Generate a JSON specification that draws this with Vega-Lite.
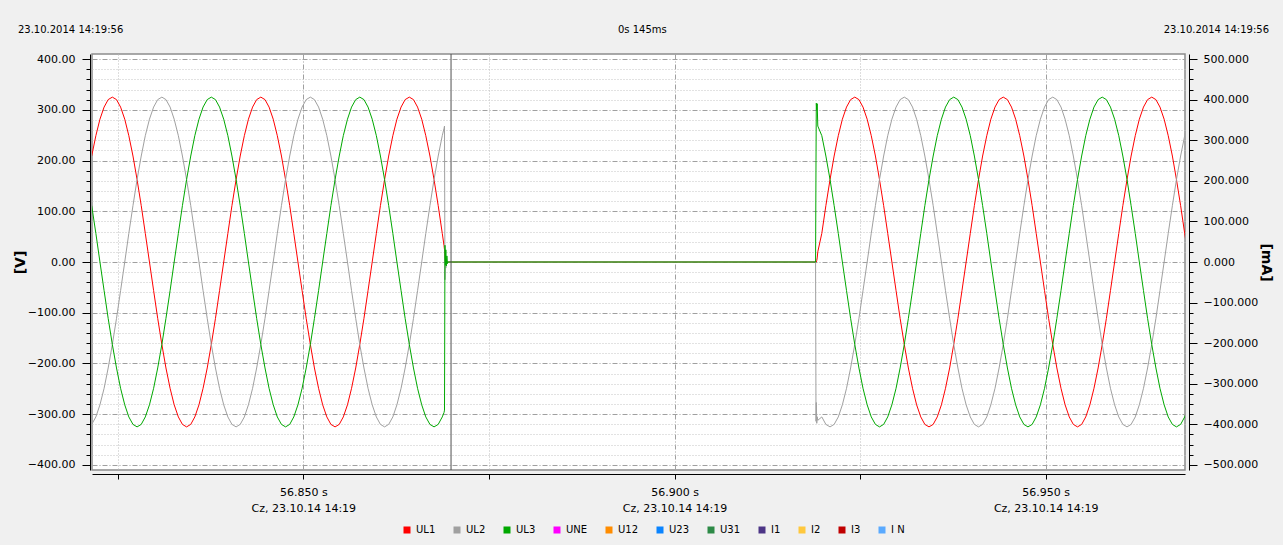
{
"$schema": "https://vega.github.io/schema/vega-lite/v6.json",
"width": 1093,
"height": 416,
"autosize": {"type": "none"},
"padding": {"left": 92, "top": 54, "right": 98, "bottom": 75},
"background": "#f0f0f0",
"config": {
  "font": "DejaVu Sans",
  "view": {"fill": "#ffffff", "stroke": "#8c8c8c", "strokeWidth": 1.5},
  "axis": {"labelFont": "DejaVu Sans", "titleFont": "DejaVu Sans", "labelColor": "#000000", "titleColor": "#000000", "domainColor": "#000000", "tickColor": "#000000", "labelOverlap": false, "labelFlush": false, "labelBound": false}
},
"datasets": {
"wave": [
{"t":56.82150,"UL1":208.9,"UL2":-320.1,"UL3":111.2},
{"t":56.82206,"UL1":249,"UL2":-305.4,"UL3":56.4},
{"t":56.82261,"UL1":281.5,"UL2":-281.5,"UL3":0},
{"t":56.82317,"UL1":305.4,"UL2":-249,"UL3":-56.4},
{"t":56.82372,"UL1":320.1,"UL2":-208.9,"UL3":-111.2},
{"t":56.82428,"UL1":325,"UL2":-162.5,"UL3":-162.5},
{"t":56.82484,"UL1":320.1,"UL2":-111.2,"UL3":-208.9},
{"t":56.82539,"UL1":305.4,"UL2":-56.4,"UL3":-249},
{"t":56.82595,"UL1":281.5,"UL2":0,"UL3":-281.5},
{"t":56.82650,"UL1":249,"UL2":56.4,"UL3":-305.4},
{"t":56.82706,"UL1":208.9,"UL2":111.2,"UL3":-320.1},
{"t":56.82761,"UL1":162.5,"UL2":162.5,"UL3":-325},
{"t":56.82817,"UL1":111.2,"UL2":208.9,"UL3":-320.1},
{"t":56.82872,"UL1":56.4,"UL2":249,"UL3":-305.4},
{"t":56.82928,"UL1":0,"UL2":281.5,"UL3":-281.5},
{"t":56.82984,"UL1":-56.4,"UL2":305.4,"UL3":-249},
{"t":56.83039,"UL1":-111.2,"UL2":320.1,"UL3":-208.9},
{"t":56.83095,"UL1":-162.5,"UL2":325,"UL3":-162.5},
{"t":56.83150,"UL1":-208.9,"UL2":320.1,"UL3":-111.2},
{"t":56.83206,"UL1":-249,"UL2":305.4,"UL3":-56.4},
{"t":56.83261,"UL1":-281.5,"UL2":281.5,"UL3":0},
{"t":56.83317,"UL1":-305.4,"UL2":249,"UL3":56.4},
{"t":56.83372,"UL1":-320.1,"UL2":208.9,"UL3":111.2},
{"t":56.83428,"UL1":-325,"UL2":162.5,"UL3":162.5},
{"t":56.83484,"UL1":-320.1,"UL2":111.2,"UL3":208.9},
{"t":56.83539,"UL1":-305.4,"UL2":56.4,"UL3":249},
{"t":56.83595,"UL1":-281.5,"UL2":0,"UL3":281.5},
{"t":56.83650,"UL1":-249,"UL2":-56.4,"UL3":305.4},
{"t":56.83706,"UL1":-208.9,"UL2":-111.2,"UL3":320.1},
{"t":56.83761,"UL1":-162.5,"UL2":-162.5,"UL3":325},
{"t":56.83817,"UL1":-111.2,"UL2":-208.9,"UL3":320.1},
{"t":56.83872,"UL1":-56.4,"UL2":-249,"UL3":305.4},
{"t":56.83928,"UL1":0,"UL2":-281.5,"UL3":281.5},
{"t":56.83984,"UL1":56.4,"UL2":-305.4,"UL3":249},
{"t":56.84039,"UL1":111.2,"UL2":-320.1,"UL3":208.9},
{"t":56.84095,"UL1":162.5,"UL2":-325,"UL3":162.5},
{"t":56.84150,"UL1":208.9,"UL2":-320.1,"UL3":111.2},
{"t":56.84206,"UL1":249,"UL2":-305.4,"UL3":56.4},
{"t":56.84261,"UL1":281.5,"UL2":-281.5,"UL3":0},
{"t":56.84317,"UL1":305.4,"UL2":-249,"UL3":-56.4},
{"t":56.84372,"UL1":320.1,"UL2":-208.9,"UL3":-111.2},
{"t":56.84428,"UL1":325,"UL2":-162.5,"UL3":-162.5},
{"t":56.84484,"UL1":320.1,"UL2":-111.2,"UL3":-208.9},
{"t":56.84539,"UL1":305.4,"UL2":-56.4,"UL3":-249},
{"t":56.84595,"UL1":281.5,"UL2":0,"UL3":-281.5},
{"t":56.84650,"UL1":249,"UL2":56.4,"UL3":-305.4},
{"t":56.84706,"UL1":208.9,"UL2":111.2,"UL3":-320.1},
{"t":56.84761,"UL1":162.5,"UL2":162.5,"UL3":-325},
{"t":56.84817,"UL1":111.2,"UL2":208.9,"UL3":-320.1},
{"t":56.84872,"UL1":56.4,"UL2":249,"UL3":-305.4},
{"t":56.84928,"UL1":0,"UL2":281.5,"UL3":-281.5},
{"t":56.84984,"UL1":-56.4,"UL2":305.4,"UL3":-249},
{"t":56.85039,"UL1":-111.2,"UL2":320.1,"UL3":-208.9},
{"t":56.85095,"UL1":-162.5,"UL2":325,"UL3":-162.5},
{"t":56.85150,"UL1":-208.9,"UL2":320.1,"UL3":-111.2},
{"t":56.85206,"UL1":-249,"UL2":305.4,"UL3":-56.4},
{"t":56.85261,"UL1":-281.5,"UL2":281.5,"UL3":0},
{"t":56.85317,"UL1":-305.4,"UL2":249,"UL3":56.4},
{"t":56.85372,"UL1":-320.1,"UL2":208.9,"UL3":111.2},
{"t":56.85428,"UL1":-325,"UL2":162.5,"UL3":162.5},
{"t":56.85484,"UL1":-320.1,"UL2":111.2,"UL3":208.9},
{"t":56.85539,"UL1":-305.4,"UL2":56.4,"UL3":249},
{"t":56.85595,"UL1":-281.5,"UL2":0,"UL3":281.5},
{"t":56.85650,"UL1":-249,"UL2":-56.4,"UL3":305.4},
{"t":56.85706,"UL1":-208.9,"UL2":-111.2,"UL3":320.1},
{"t":56.85761,"UL1":-162.5,"UL2":-162.5,"UL3":325},
{"t":56.85817,"UL1":-111.2,"UL2":-208.9,"UL3":320.1},
{"t":56.85872,"UL1":-56.4,"UL2":-249,"UL3":305.4},
{"t":56.85928,"UL1":0,"UL2":-281.5,"UL3":281.5},
{"t":56.85984,"UL1":56.4,"UL2":-305.4,"UL3":249},
{"t":56.86039,"UL1":111.2,"UL2":-320.1,"UL3":208.9},
{"t":56.86095,"UL1":162.5,"UL2":-325,"UL3":162.5},
{"t":56.86150,"UL1":208.9,"UL2":-320.1,"UL3":111.2},
{"t":56.86206,"UL1":249,"UL2":-305.4,"UL3":56.4},
{"t":56.86261,"UL1":281.5,"UL2":-281.5,"UL3":0},
{"t":56.86317,"UL1":305.4,"UL2":-249,"UL3":-56.4},
{"t":56.86372,"UL1":320.1,"UL2":-208.9,"UL3":-111.2},
{"t":56.86428,"UL1":325,"UL2":-162.5,"UL3":-162.5},
{"t":56.86484,"UL1":320.1,"UL2":-111.2,"UL3":-208.9},
{"t":56.86539,"UL1":305.4,"UL2":-56.4,"UL3":-249},
{"t":56.86595,"UL1":281.5,"UL2":0,"UL3":-281.5},
{"t":56.86650,"UL1":249,"UL2":56.4,"UL3":-305.4},
{"t":56.86706,"UL1":208.9,"UL2":111.2,"UL3":-320.1},
{"t":56.86761,"UL1":162.5,"UL2":162.5,"UL3":-325},
{"t":56.86817,"UL1":111.2,"UL2":208.9,"UL3":-320.1},
{"t":56.86872,"UL1":56.4,"UL2":249,"UL3":-305.4},
{"t":56.86895,"UL1":33,"UL2":263,"UL3":-297},
{"t":56.86902,"UL1":24,"UL2":268,"UL3":-292},
{"t":56.86908,"UL1":10,"UL2":-35,"UL3":33},
{"t":56.86914,"UL1":0,"UL2":10,"UL3":-6},
{"t":56.86920,"UL1":0,"UL2":-12,"UL3":24},
{"t":56.86926,"UL1":0,"UL2":6,"UL3":-8},
{"t":56.86934,"UL1":0,"UL2":-4,"UL3":12},
{"t":56.86942,"UL1":0,"UL2":2,"UL3":-3},
{"t":56.86950,"UL1":0,"UL2":0,"UL3":0},
{"t":56.91900,"UL1":0,"UL2":0,"UL3":0},
{"t":56.91906,"UL1":0,"UL2":-314,"UL3":200},
{"t":56.91910,"UL1":0,"UL2":-277,"UL3":313},
{"t":56.91916,"UL1":3,"UL2":-318,"UL3":300},
{"t":56.91922,"UL1":8,"UL2":-305,"UL3":312},
{"t":56.91930,"UL1":20,"UL2":-312,"UL3":268},
{"t":56.91984,"UL1":56.4,"UL2":-305.4,"UL3":249},
{"t":56.92039,"UL1":111.2,"UL2":-320.1,"UL3":208.9},
{"t":56.92095,"UL1":162.5,"UL2":-325,"UL3":162.5},
{"t":56.92150,"UL1":208.9,"UL2":-320.1,"UL3":111.2},
{"t":56.92206,"UL1":249,"UL2":-305.4,"UL3":56.4},
{"t":56.92261,"UL1":281.5,"UL2":-281.5,"UL3":0},
{"t":56.92317,"UL1":305.4,"UL2":-249,"UL3":-56.4},
{"t":56.92372,"UL1":320.1,"UL2":-208.9,"UL3":-111.2},
{"t":56.92428,"UL1":325,"UL2":-162.5,"UL3":-162.5},
{"t":56.92484,"UL1":320.1,"UL2":-111.2,"UL3":-208.9},
{"t":56.92539,"UL1":305.4,"UL2":-56.4,"UL3":-249},
{"t":56.92595,"UL1":281.5,"UL2":0,"UL3":-281.5},
{"t":56.92650,"UL1":249,"UL2":56.4,"UL3":-305.4},
{"t":56.92706,"UL1":208.9,"UL2":111.2,"UL3":-320.1},
{"t":56.92761,"UL1":162.5,"UL2":162.5,"UL3":-325},
{"t":56.92817,"UL1":111.2,"UL2":208.9,"UL3":-320.1},
{"t":56.92872,"UL1":56.4,"UL2":249,"UL3":-305.4},
{"t":56.92928,"UL1":0,"UL2":281.5,"UL3":-281.5},
{"t":56.92984,"UL1":-56.4,"UL2":305.4,"UL3":-249},
{"t":56.93039,"UL1":-111.2,"UL2":320.1,"UL3":-208.9},
{"t":56.93095,"UL1":-162.5,"UL2":325,"UL3":-162.5},
{"t":56.93150,"UL1":-208.9,"UL2":320.1,"UL3":-111.2},
{"t":56.93206,"UL1":-249,"UL2":305.4,"UL3":-56.4},
{"t":56.93261,"UL1":-281.5,"UL2":281.5,"UL3":0},
{"t":56.93317,"UL1":-305.4,"UL2":249,"UL3":56.4},
{"t":56.93372,"UL1":-320.1,"UL2":208.9,"UL3":111.2},
{"t":56.93428,"UL1":-325,"UL2":162.5,"UL3":162.5},
{"t":56.93484,"UL1":-320.1,"UL2":111.2,"UL3":208.9},
{"t":56.93539,"UL1":-305.4,"UL2":56.4,"UL3":249},
{"t":56.93595,"UL1":-281.5,"UL2":0,"UL3":281.5},
{"t":56.93650,"UL1":-249,"UL2":-56.4,"UL3":305.4},
{"t":56.93706,"UL1":-208.9,"UL2":-111.2,"UL3":320.1},
{"t":56.93761,"UL1":-162.5,"UL2":-162.5,"UL3":325},
{"t":56.93817,"UL1":-111.2,"UL2":-208.9,"UL3":320.1},
{"t":56.93872,"UL1":-56.4,"UL2":-249,"UL3":305.4},
{"t":56.93928,"UL1":0,"UL2":-281.5,"UL3":281.5},
{"t":56.93984,"UL1":56.4,"UL2":-305.4,"UL3":249},
{"t":56.94039,"UL1":111.2,"UL2":-320.1,"UL3":208.9},
{"t":56.94095,"UL1":162.5,"UL2":-325,"UL3":162.5},
{"t":56.94150,"UL1":208.9,"UL2":-320.1,"UL3":111.2},
{"t":56.94206,"UL1":249,"UL2":-305.4,"UL3":56.4},
{"t":56.94261,"UL1":281.5,"UL2":-281.5,"UL3":0},
{"t":56.94317,"UL1":305.4,"UL2":-249,"UL3":-56.4},
{"t":56.94372,"UL1":320.1,"UL2":-208.9,"UL3":-111.2},
{"t":56.94428,"UL1":325,"UL2":-162.5,"UL3":-162.5},
{"t":56.94484,"UL1":320.1,"UL2":-111.2,"UL3":-208.9},
{"t":56.94539,"UL1":305.4,"UL2":-56.4,"UL3":-249},
{"t":56.94595,"UL1":281.5,"UL2":0,"UL3":-281.5},
{"t":56.94650,"UL1":249,"UL2":56.4,"UL3":-305.4},
{"t":56.94706,"UL1":208.9,"UL2":111.2,"UL3":-320.1},
{"t":56.94761,"UL1":162.5,"UL2":162.5,"UL3":-325},
{"t":56.94817,"UL1":111.2,"UL2":208.9,"UL3":-320.1},
{"t":56.94872,"UL1":56.4,"UL2":249,"UL3":-305.4},
{"t":56.94928,"UL1":0,"UL2":281.5,"UL3":-281.5},
{"t":56.94984,"UL1":-56.4,"UL2":305.4,"UL3":-249},
{"t":56.95039,"UL1":-111.2,"UL2":320.1,"UL3":-208.9},
{"t":56.95095,"UL1":-162.5,"UL2":325,"UL3":-162.5},
{"t":56.95150,"UL1":-208.9,"UL2":320.1,"UL3":-111.2},
{"t":56.95206,"UL1":-249,"UL2":305.4,"UL3":-56.4},
{"t":56.95261,"UL1":-281.5,"UL2":281.5,"UL3":0},
{"t":56.95317,"UL1":-305.4,"UL2":249,"UL3":56.4},
{"t":56.95372,"UL1":-320.1,"UL2":208.9,"UL3":111.2},
{"t":56.95428,"UL1":-325,"UL2":162.5,"UL3":162.5},
{"t":56.95484,"UL1":-320.1,"UL2":111.2,"UL3":208.9},
{"t":56.95539,"UL1":-305.4,"UL2":56.4,"UL3":249},
{"t":56.95595,"UL1":-281.5,"UL2":0,"UL3":281.5},
{"t":56.95650,"UL1":-249,"UL2":-56.4,"UL3":305.4},
{"t":56.95706,"UL1":-208.9,"UL2":-111.2,"UL3":320.1},
{"t":56.95761,"UL1":-162.5,"UL2":-162.5,"UL3":325},
{"t":56.95817,"UL1":-111.2,"UL2":-208.9,"UL3":320.1},
{"t":56.95872,"UL1":-56.4,"UL2":-249,"UL3":305.4},
{"t":56.95928,"UL1":0,"UL2":-281.5,"UL3":281.5},
{"t":56.95984,"UL1":56.4,"UL2":-305.4,"UL3":249},
{"t":56.96039,"UL1":111.2,"UL2":-320.1,"UL3":208.9},
{"t":56.96095,"UL1":162.5,"UL2":-325,"UL3":162.5},
{"t":56.96150,"UL1":208.9,"UL2":-320.1,"UL3":111.2},
{"t":56.96206,"UL1":249,"UL2":-305.4,"UL3":56.4},
{"t":56.96261,"UL1":281.5,"UL2":-281.5,"UL3":0},
{"t":56.96317,"UL1":305.4,"UL2":-249,"UL3":-56.4},
{"t":56.96372,"UL1":320.1,"UL2":-208.9,"UL3":-111.2},
{"t":56.96428,"UL1":325,"UL2":-162.5,"UL3":-162.5},
{"t":56.96484,"UL1":320.1,"UL2":-111.2,"UL3":-208.9},
{"t":56.96539,"UL1":305.4,"UL2":-56.4,"UL3":-249},
{"t":56.96595,"UL1":281.5,"UL2":0,"UL3":-281.5},
{"t":56.96650,"UL1":249,"UL2":56.4,"UL3":-305.4},
{"t":56.96706,"UL1":208.9,"UL2":111.2,"UL3":-320.1},
{"t":56.96761,"UL1":162.5,"UL2":162.5,"UL3":-325},
{"t":56.96817,"UL1":111.2,"UL2":208.9,"UL3":-320.1},
{"t":56.96872,"UL1":56.4,"UL2":249,"UL3":-305.4},
{"t":56.96928,"UL1":0,"UL2":281.5,"UL3":-281.5}
]
},
"layer": [
 {
  "data": {"name": "wave"},
  "transform": [{"fold": ["UL1", "UL2", "UL3"], "as": ["series", "v"]}],
  "mark": {"type": "line", "strokeWidth": 1, "clip": true},
  "encoding": {
   "x": {"field": "t", "type": "quantitative",
     "scale": {"domain": [56.82154, 56.96876], "nice": false, "zero": false},
     "axis": {"orient": "bottom", "title": null, "values": [56.825, 56.85, 56.875, 56.9, 56.925, 56.95],
       "offset": 4, "tickSize": 5, "labelPadding": 7, "labelFontSize": 11, "labelLineHeight": 16,
       "labelExpr": "round(datum.value*1000) % 50 === 0 ? [format(datum.value, '.3f') + ' s', 'Cz, 23.10.14 14:19'] : ''",
       "grid": true, "gridWidth": 1,
       "gridColor": {"condition": {"test": "round(datum.value*1000) % 50 === 0", "value": "#a0a0a0"}, "value": "#bcbcbc"},
       "gridDash": {"condition": {"test": "round(datum.value*1000) % 50 === 0", "value": [5, 2, 1, 2]}, "value": [1, 2]}}},
   "y": {"field": "v", "type": "quantitative",
     "scale": {"domain": [-410, 410], "nice": false, "zero": false},
     "axis": {"orient": "left", "title": "[V]", "offset": 2,
       "values": [-400,-380,-360,-340,-320,-300,-280,-260,-240,-220,-200,-180,-160,-140,-120,-100,-80,-60,-40,-20,0,20,40,60,80,100,120,140,160,180,200,220,240,260,280,300,320,340,360,380,400],
       "labelExpr": "datum.value % 100 === 0 ? format(datum.value, '.2f') : ''",
       "tickSize": {"condition": {"test": "datum.value % 100 === 0", "value": 8}, "value": 4},
       "labelPadding": 7, "labelFontSize": 11,
       "titleFontSize": 14, "titleFontWeight": "bold", "titlePadding": 0,
       "grid": true, "gridWidth": 1,
       "gridColor": {"condition": {"test": "datum.value % 100 === 0", "value": "#a0a0a0"}, "value": "#c4c4c4"},
       "gridDash": {"condition": {"test": "datum.value % 100 === 0", "value": [5, 2, 1, 2]}, "value": [1, 2]}}},
   "color": {"field": "series", "type": "nominal",
     "scale": {"domain": ["UL1", "UL2", "UL3", "UNE", "U12", "U23", "U31", "I1", "I2", "I3", "I N"],
               "range": ["#ff0000", "#a0a0a0", "#00a800", "#ff00ff", "#ff8c00", "#0a84ff", "#2d8a47", "#4c3586", "#ffc83d", "#c00000", "#5aaaff"]},
     "legend": {"orient": "none", "legendX": 310, "legendY": 471, "direction": "horizontal", "title": null,
       "gridAlign": "none",
       "symbolType": "square", "symbolSize": 49, "symbolStrokeWidth": 0,
       "labelFont": "DejaVu Sans", "labelFontSize": 10, "labelColor": "#000000", "labelOffset": 4,
       "columnPadding": 16, "padding": 0,
       "encode": {"symbols": {"update": {"fill": {"scale": "color", "field": "value"}, "fillOpacity": {"value": 1}}}}}}
  }
 },
 {
  "data": {"values": [{"t": 56.8699}]},
  "mark": {"type": "rule", "color": "#505050", "strokeWidth": 1},
  "encoding": {
   "x": {"field": "t", "type": "quantitative",
     "scale": {"domain": [56.82154, 56.96876], "nice": false, "zero": false},
     "axis": {"orient": "top", "title": null, "values": [56.8216, 56.8952, 56.9687],
       "domain": false, "ticks": false, "grid": false,
       "labelFontSize": 10, "labelPadding": 22, "labelBaseline": "alphabetic",
       "labelExpr": "datum.value < 56.85 || datum.value > 56.95 ? '23.10.2014 14:19:56' : '0s 145ms'",
       "labelAlign": {"condition": [{"test": "datum.value < 56.85", "value": "left"}, {"test": "datum.value > 56.95", "value": "right"}], "value": "center"},
       "labelOffset": {"condition": [{"test": "datum.value < 56.85", "value": -75}, {"test": "datum.value > 56.95", "value": 84}], "value": 3}}}
  }
 },
 {
  "data": {"values": [{"mA": -500}, {"mA": 500}]},
  "mark": {"type": "rule", "strokeOpacity": 0},
  "encoding": {
   "y": {"field": "mA", "type": "quantitative",
     "scale": {"domain": [-512.5, 512.5], "nice": false, "zero": false},
     "axis": {"orient": "right", "title": "[mA]", "titleAngle": 90, "offset": 4, "grid": false,
       "values": [-500,-475,-450,-425,-400,-375,-350,-325,-300,-275,-250,-225,-200,-175,-150,-125,-100,-75,-50,-25,0,25,50,75,100,125,150,175,200,225,250,275,300,325,350,375,400,425,450,475,500],
       "labelExpr": "datum.value % 100 === 0 ? format(datum.value, '.3f') : ''",
       "tickSize": {"condition": {"test": "datum.value % 100 === 0", "value": 8}, "value": 4},
       "labelPadding": 6, "labelFontSize": 11,
       "titleFontSize": 14, "titleFontWeight": "bold", "titlePadding": 1}}
  }
 }
],
"resolve": {"scale": {"y": "independent"}, "axis": {"x": "independent", "y": "independent"}}
}
